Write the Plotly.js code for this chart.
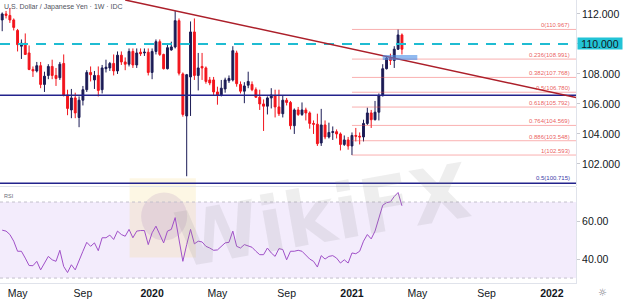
<!DOCTYPE html>
<html>
<head>
<meta charset="utf-8">
<script src="https://cdn.plot.ly/plotly-3.0.1.min.js"></script>
<style>
  html, body { margin: 0; padding: 0; background: #ffffff; }
  #chart { width: 623px; height: 302px; }
</style>
</head>
<body>
<div id="chart"></div>
<script>
// ---- Data (weekly USD/JPY) ----
const weeks = [
  '2019-04-08','2019-04-15','2019-04-22','2019-04-29','2019-05-06','2019-05-13','2019-05-20','2019-05-27',
  '2019-06-03','2019-06-10','2019-06-17','2019-06-24','2019-07-01','2019-07-08','2019-07-15','2019-07-22',
  '2019-07-29','2019-08-05','2019-08-12','2019-08-19','2019-08-26','2019-09-02','2019-09-09','2019-09-16',
  '2019-09-23','2019-09-30','2019-10-07','2019-10-14','2019-10-21','2019-10-28','2019-11-04','2019-11-11',
  '2019-11-18','2019-11-25','2019-12-02','2019-12-09','2019-12-16','2019-12-23','2019-12-30','2020-01-06',
  '2020-01-13','2020-01-20','2020-01-27','2020-02-03','2020-02-10','2020-02-17','2020-02-24','2020-03-02',
  '2020-03-09','2020-03-16','2020-03-23','2020-03-30','2020-04-06','2020-04-13','2020-04-20','2020-04-27',
  '2020-05-04','2020-05-11','2020-05-18','2020-05-25','2020-06-01','2020-06-08','2020-06-15','2020-06-22',
  '2020-06-29','2020-07-06','2020-07-13','2020-07-20','2020-07-27','2020-08-03','2020-08-10','2020-08-17',
  '2020-08-24','2020-08-31','2020-09-07','2020-09-14','2020-09-21','2020-09-28','2020-10-05','2020-10-12',
  '2020-10-19','2020-10-26','2020-11-02','2020-11-09','2020-11-16','2020-11-23','2020-11-30','2020-12-07',
  '2020-12-14','2020-12-21','2020-12-28','2021-01-04','2021-01-11','2021-01-18','2021-01-25','2021-02-01',
  '2021-02-08','2021-02-15','2021-02-22','2021-03-01','2021-03-08','2021-03-15','2021-03-22','2021-03-29',
  '2021-04-05'
];
const openP = [
  111.6,112.0,111.9,111.6,110.9,109.85,110.05,109.4,108.3,108.2,108.55,107.3,107.9,108.5,107.9,107.75,
  108.7,106.6,105.6,106.4,105.1,106.25,106.95,108.1,107.6,107.9,106.95,108.35,108.4,108.7,108.2,109.25,
  108.8,108.65,109.5,108.6,109.45,109.4,109.45,108.1,109.5,110.15,109.3,108.35,109.6,109.8,111.55,108.0,
  105.2,107.8,110.8,107.9,108.5,108.4,107.6,107.6,106.8,106.6,107.0,107.55,107.6,109.4,107.3,106.85,
  107.25,107.3,106.95,106.45,106.0,105.85,106.4,106.55,105.8,105.35,106.25,106.1,104.55,105.6,105.3,105.6,
  105.4,104.7,104.65,103.4,104.6,103.8,104.1,104.15,104.0,103.3,103.6,103.2,103.9,103.85,103.8,104.7,
  105.4,104.95,105.45,106.55,108.35,109.05,108.9,109.65,110.6
];
const highP = [
  112.1,112.2,112.4,111.7,111.0,110.3,110.7,109.9,108.5,108.8,108.8,108.15,108.65,108.95,108.4,108.8,
  109.3,106.95,107.0,106.75,106.5,107.2,108.25,108.5,108.2,108.5,108.6,108.95,108.8,109.3,109.5,109.5,
  109.1,109.7,109.7,109.7,109.7,109.7,109.7,109.7,110.3,110.3,109.35,110.0,110.15,112.2,111.7,108.1,
  108.0,111.5,111.7,109.4,109.4,108.5,107.8,107.8,107.15,107.6,107.75,107.9,109.85,109.55,107.5,107.45,
  108.15,107.5,107.1,106.95,106.3,106.5,107.05,106.95,106.95,106.55,106.4,106.2,105.7,105.8,106.1,105.75,
  105.5,104.9,105.35,105.67,104.9,104.75,104.5,104.3,104.1,103.9,103.8,104.1,104.4,104.1,104.95,105.75,
  105.6,106.2,106.7,108.65,109.2,109.35,109.85,110.97,110.7
];
const lowP = [
  110.85,111.7,111.4,110.9,109.5,109.0,109.3,108.25,107.8,108.1,107.05,106.8,107.65,107.65,107.2,107.6,
  106.5,105.25,105.05,105.05,104.45,105.9,106.8,107.5,107.0,106.5,106.7,108.1,108.2,107.9,108.0,108.6,
  108.25,108.5,108.4,108.4,109.2,109.2,107.9,107.65,109.3,109.2,108.3,108.3,109.55,109.7,107.9,105.15,
  101.18,105.2,107.6,106.9,107.6,107.35,107.25,106.6,105.95,106.5,106.75,107.4,107.5,107.15,106.7,106.05,
  107.05,106.85,106.4,105.6,104.2,105.3,105.7,105.1,105.2,105.1,105.9,104.3,104.0,105.2,105.2,104.9,
  104.35,104.0,103.2,103.2,103.65,103.7,103.6,103.7,102.9,103.2,102.95,102.59,103.5,103.3,103.5,104.6,
  104.4,104.9,104.9,106.5,108.3,108.6,108.4,109.6,109.3
];
const closeP = [
  112.0,111.9,111.6,111.1,109.95,110.05,109.3,108.3,108.2,108.55,107.3,107.85,108.5,107.9,107.7,108.65,
  106.6,105.7,106.4,105.4,106.25,106.95,108.1,107.95,107.9,106.9,108.4,108.45,108.7,108.2,109.25,108.8,
  108.65,109.5,108.6,109.4,109.35,109.45,108.1,109.5,110.15,109.3,108.35,109.75,109.8,111.55,108.05,105.3,
  107.95,110.8,107.9,108.4,108.4,107.5,107.4,106.8,106.6,107.05,107.6,107.7,109.55,107.35,106.85,107.2,
  107.5,106.95,106.45,106.0,105.85,106.4,106.6,105.8,105.35,106.25,106.1,104.55,105.6,105.3,105.6,105.4,
  104.7,104.65,103.35,104.6,103.8,104.1,104.15,104.0,103.3,103.6,103.2,103.9,103.85,103.8,104.7,105.4,
  104.95,105.45,106.55,108.35,109.05,108.9,109.65,110.6,109.65
];
const rsi = [
  55.2,54.7,52.9,49.4,44.1,44.1,40.5,36.6,36.5,38.8,34.3,37.9,41.4,39.6,38.8,44.6,
  36.1,32.9,37.0,34.3,39.6,44.1,48.8,46.7,48.5,44.4,51.2,51.2,52.6,50.3,54.7,52.9,
  52.0,55.6,51.2,54.7,55.0,55.0,47.6,53.8,57.3,52.9,48.5,54.7,55.6,61.8,50.3,38.8,
  47.6,55.6,48.0,49.4,49.0,46.7,45.8,44.6,44.8,46.7,48.5,48.8,54.7,46.7,45.8,47.6,
  46.7,46.2,44.1,42.3,42.3,45.8,43.2,41.4,45.5,45.0,39.6,44.1,44.1,44.6,44.1,42.3,
  40.0,38.8,35.8,41.8,40.0,41.4,41.8,40.5,37.9,39.6,37.9,43.2,42.8,44.1,49.4,52.9,
  50.6,54.7,61.8,68.3,69.7,70.1,72.9,75.0,68.0
];

// Fibonacci retracement (Jan 2021 low -> Mar 2021 high)
const fibRatios = ['0','0.236','0.382','0.5','0.618','0.764','0.886','1'];
const fibPrices = [110.967,108.991,107.768,106.780,105.792,104.569,103.548,102.593];
const fibStart = '2021-01-04';
const outerFibRatio = '0.5';
const outerFibPrice = 100.715;

// Other drawn levels
const keyLevel = 110.0;          // cyan dashed
const supportLevel = 106.58;     // navy horizontal
const trendStart = ['2019-11-18', 112.93];
const trendEnd   = ['2022-02-16', 106.43];
const zoneX = ['2021-03-01','2021-05-03'];
const zoneY = [108.93, 109.27];

// Axis ticks
const priceTicks = [102,104,106,108,110,112];
const rsiTicks = [40,60];
const xTickVals = ['2019-05-06','2019-09-02','2020-01-06','2020-05-04','2020-09-07','2021-01-04','2021-05-03','2021-09-06','2022-01-03'];
const xTickText = ['May','Sep','<b>2020</b>','May','Sep','<b>2021</b>','May','Sep','<b>2022</b>'];
const xRange = ['2019-04-04','2022-02-16'];
const priceRange = [100.53, 112.93];
const rsiRange = [27.4, 77.9];

// ---- Build ----
const FONT = 'Liberation Sans, Arial, sans-serif';
const txt = '#131722';

const traces = [
  {
    type: 'candlestick', x: weeks, open: openP, high: highP, low: lowP, close: closeP,
    xaxis: 'x', yaxis: 'y',
    increasing: { line: { color: '#1b1b55', width: 1 }, fillcolor: '#1b1b55' },
    decreasing: { line: { color: '#f2141c', width: 1 }, fillcolor: '#f2141c' },
    whiskerwidth: 0, hoverinfo: 'skip', showlegend: false
  },
  {
    type: 'scatter', mode: 'lines', x: weeks, y: rsi, xaxis: 'x', yaxis: 'y2',
    line: { color: '#a050c8', width: 1 }, hoverinfo: 'skip', showlegend: false
  }
];

const shapes = [];
// RSI band background and bounds
shapes.push({ type: 'rect', xref: 'paper', yref: 'y2', x0: 0, x1: 1, y0: 30, y1: 70,
  fillcolor: 'rgba(150,80,230,0.11)', line: { width: 0 }, layer: 'below' });
[70, 30].forEach(v => shapes.push({ type: 'line', xref: 'paper', yref: 'y2', x0: 0, x1: 1, y0: v, y1: v,
  line: { color: '#c3c0cc', width: 1, dash: '3px,3px' } }));
// panel separator
shapes.push({ type: 'line', xref: 'paper', yref: 'paper', x0: 0, x1: 1, y0: 0.3410, y1: 0.3410,
  line: { color: '#e0e3eb', width: 1 } });
// fib lines
fibPrices.forEach(p => shapes.push({ type: 'line', xref: 'x', yref: 'y', x0: fibStart, x1: xRange[1], y0: p, y1: p,
  line: { color: 'rgba(242,80,80,0.45)', width: 1 } }));
// outer fib level
shapes.push({ type: 'line', xref: 'paper', yref: 'y', x0: 0, x1: 1, y0: outerFibPrice, y1: outerFibPrice,
  line: { color: '#23238c', width: 1.5 } });
// navy support
shapes.push({ type: 'line', xref: 'paper', yref: 'y', x0: 0, x1: 1, y0: supportLevel, y1: supportLevel,
  line: { color: '#23238c', width: 1.5 } });
// cyan dashed level
shapes.push({ type: 'line', xref: 'paper', yref: 'y', x0: 0, x1: 1, y0: keyLevel, y1: keyLevel,
  line: { color: '#1fbcd2', width: 2, dash: '10px,8px' } });
// trendline
shapes.push({ type: 'line', xref: 'x', yref: 'y', x0: trendStart[0], y0: trendStart[1], x1: trendEnd[0], y1: trendEnd[1],
  line: { color: '#ac1f2a', width: 1.5 } });
// blue zone
shapes.push({ type: 'rect', xref: 'x', yref: 'y', x0: zoneX[0], x1: zoneX[1], y0: zoneY[0], y1: zoneY[1],
  fillcolor: 'rgba(70,140,230,0.6)', line: { width: 0 } });
// watermark logo (faint)
shapes.push({ type: 'rect', xref: 'paper', yref: 'paper', x0: 0.225, x1: 0.34, y0: 0.09, y1: 0.37,
  fillcolor: 'rgba(245,205,90,0.16)', line: { width: 0 }, layer: 'below' });
shapes.push({ type: 'circle', xref: 'paper', yref: 'paper', x0: 0.245, x1: 0.325, y0: 0.15, y1: 0.32,
  fillcolor: 'rgba(140,90,170,0.14)', line: { width: 0 }, layer: 'below' });

const annotations = [];
annotations.push({ xref: 'paper', yref: 'paper', x: 0.003, y: 0.997, xanchor: 'left', yanchor: 'top',
  text: 'U.S. Dollar / Japanese Yen · 1W · IDC', showarrow: false, font: { family: FONT, size: 7, color: '#50535e' } });
annotations.push({ xref: 'paper', yref: 'paper', x: 0.003, y: 0.325, xanchor: 'left', yanchor: 'top',
  text: 'RSI', showarrow: false, font: { family: FONT, size: 5.5, color: '#6a6d78' } });
fibRatios.forEach((r, i) => annotations.push({ xref: 'paper', yref: 'y', x: 0.993, y: fibPrices[i],
  xanchor: 'right', yanchor: 'bottom', yshift: -1, text: r + '(' + fibPrices[i].toFixed(3) + ')', showarrow: false,
  font: { family: FONT, size: 6, color: 'rgba(230,60,60,0.85)' } }));
annotations.push({ xref: 'paper', yref: 'y', x: 0.993, y: outerFibPrice, xanchor: 'right', yanchor: 'bottom', yshift: 0,
  text: outerFibRatio + '(' + outerFibPrice.toFixed(3) + ')', showarrow: false,
  font: { family: FONT, size: 6, color: '#3a3aa8' } });
annotations.push({ xref: 'paper', yref: 'y', x: 1, y: keyLevel, xanchor: 'left', yanchor: 'middle', xshift: 1,
  text: keyLevel.toFixed(3), showarrow: false, bgcolor: '#22c3d6', width: 44, height: 11, borderpad: 0,
  font: { family: FONT, size: 10.5, color: txt } });
annotations.push({ xref: 'paper', yref: 'paper', x: 0.56, y: 0.24, xanchor: 'center', yanchor: 'middle',
  text: '<b>WikiFX</b>', showarrow: false, textangle: -10,
  font: { family: 'DejaVu Sans, sans-serif', size: 76, color: 'rgba(140,140,140,0.15)' } });
annotations.push({ xref: 'paper', yref: 'paper', x: 1, y: -0.035, xanchor: 'left', yanchor: 'middle', xshift: 20,
  text: '☼', showarrow: false, font: { family: 'DejaVu Sans', size: 10, color: '#787b86' } });

const layout = {
  width: 623, height: 302,
  margin: { l: 0, r: 47, t: 0, b: 19, pad: 0 },
  paper_bgcolor: '#ffffff', plot_bgcolor: '#ffffff',
  font: { family: FONT, size: 10.5, color: txt },
  showlegend: false,
  dragmode: false,
  xaxis: {
    type: 'date', range: xRange, anchor: 'y2', rangeslider: { visible: false },
    tickvals: xTickVals, ticktext: xTickText, showgrid: false, zeroline: false,
    showline: true, linecolor: '#e0e3eb', linewidth: 1, ticks: '', tickfont: { size: 10.5, color: txt }
  },
  yaxis: {
    domain: [0.3428, 1], range: priceRange, side: 'right', anchor: 'x',
    tickvals: priceTicks, ticktext: priceTicks.map(v => v.toFixed(3)),
    showgrid: false, zeroline: false, showline: true, linecolor: '#e0e3eb',
    ticks: 'outside', ticklen: 3, tickcolor: '#c8cad0', tickfont: { size: 10.5, color: txt }
  },
  yaxis2: {
    domain: [0, 0.3392], range: rsiRange, side: 'right', anchor: 'x',
    tickvals: rsiTicks, ticktext: rsiTicks.map(v => v.toFixed(2)),
    showgrid: false, zeroline: false, showline: true, linecolor: '#e0e3eb',
    ticks: 'outside', ticklen: 3, tickcolor: '#c8cad0', tickfont: { size: 10.5, color: txt }
  },
  shapes: shapes,
  annotations: annotations
};

Plotly.newPlot('chart', traces, layout, { staticPlot: true, displayModeBar: false });
</script>
</body>
</html>
